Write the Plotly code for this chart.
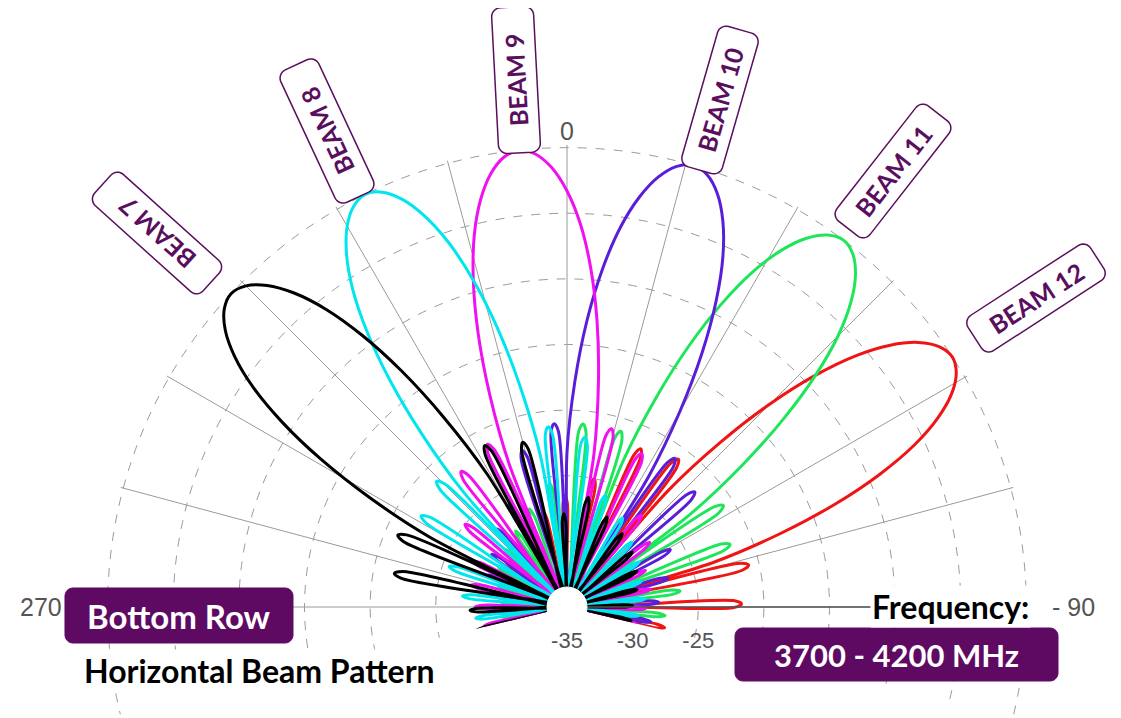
import math
import plotly.graph_objects as go

# ---------------- data ----------------
beam_names = ["BEAM 7", "BEAM 8", "BEAM 9", "BEAM 10", "BEAM 11", "BEAM 12"]
beam_steer_deg = [-47, -26, -6, 16, 37, 57]
beam_colors = ["#000000", "#00E6EE", "#F010F0", "#5A1ED8", "#1EE65A", "#F01414"]

# main lobe (offset from steering angle, gain in dB)
main_lobe_offset_deg = [-16, -14, -12, -10, -8, -6, -4, -2, 0, 2, 4, 6, 8, 10, 12, 14, 16]
main_lobe_gain_db = [-23.2, -17.8, -13.1, -9.1, -5.8, -3.3, -1.5, -0.4, 0.0,
                     -0.4, -1.5, -3.3, -5.8, -9.1, -13.1, -17.8, -23.2]

# side lobes: offsets of the lobe tips and of the nulls between them
sidelobe_offset_deg = [20, 32, 45, 58, 71, 84, 97, 110, 123, 136, 149, 162, 175]
null_offset_deg = [17.5, 26, 38.5, 51.5, 64.5, 77.5, 90.5, 103.5, 116.5, 129.5, 142.5, 155.5, 168.5, 180]
null_gain_db = -35
# each side-lobe tip is a narrow loop: half width (deg) and drop (dB) at its shoulders
sidelobe_shoulder_deg = 1.2
sidelobe_shoulder_drop_db = 0.6

sidelobe_left_db = [
    [-21.0, -21.6, -27.6, -27.7, -28.7, -29.5, -29.8, -30.0, -30.5, -30.5, -31.0, -31.0, -31.0],
    [-21.2, -21.9, -25.5, -27.0, -28.0, -28.5, -29.0, -29.5, -30.0, -30.0, -30.5, -30.5, -31.0],
    [-21.2, -21.9, -25.0, -27.0, -27.5, -28.0, -28.5, -29.0, -29.5, -30.0, -30.0, -30.5, -31.0],
    [-21.0, -22.6, -26.0, -27.0, -28.0, -28.5, -29.0, -29.0, -29.5, -30.0, -30.0, -30.5, -31.0],
    [-21.0, -21.0, -25.5, -27.0, -28.0, -28.5, -29.0, -29.5, -30.0, -30.0, -30.5, -31.0, -31.0],
    [-20.9, -21.7, -25.0, -26.5, -27.5, -28.0, -28.5, -29.0, -29.5, -30.0, -30.0, -30.5, -31.0],
]
sidelobe_right_db = [
    [-21.2, -22.0, -27.9, -26.5, -27.5, -28.0, -28.5, -29.0, -29.5, -30.0, -30.0, -30.5, -31.0],
    [-21.2, -22.0, -26.0, -27.0, -28.0, -28.5, -29.0, -29.0, -29.5, -30.0, -30.0, -30.5, -31.0],
    [-21.0, -22.0, -26.0, -27.0, -28.4, -28.5, -29.0, -29.5, -29.5, -30.0, -30.5, -30.5, -31.0],
    [-21.0, -21.9, -26.0, -27.0, -28.0, -28.5, -29.0, -29.5, -30.0, -30.0, -30.5, -31.0, -31.0],
    [-20.8, -21.7, -26.3, -27.5, -28.0, -28.5, -29.0, -29.5, -29.5, -30.0, -30.5, -30.5, -31.0],
    [-20.8, -21.7, -27.4, -27.5, -28.5, -29.0, -28.0, -29.5, -30.0, -30.0, -30.5, -31.0, -31.0],
]

radial_ticks_db = [-35, -30, -25, -20, -15, -10, -5, 0]
radial_tick_text = ["-35", "-30", "-25", "", "", "", "", ""]   # others hidden by the box
angular_grid_deg = list(range(-180, 180, 15))

# ---------------- layout helpers (reference pixels -> paper) ----------------
OX, OY = 8, 8               # page body margin
FW, FH = 1121 - OX, 718 - OY
CX, CY, R = 567, 607, 462   # polar centre and radius in reference pixels


def to_paper(x, y):
    return (x - OX) / FW, 1 - (y - OY) / FH


def rounded_rect_path(cx, cy, w, h, angle, rad, n=8):
    a = math.radians(angle)
    ca, sa = math.cos(a), math.sin(a)
    hw, hh = w / 2 - rad, h / 2 - rad
    pts = []
    for ox, oy, a0 in [(hw, hh, 0), (-hw, hh, 90), (-hw, -hh, 180), (hw, -hh, 270)]:
        for k in range(n + 1):
            t = math.radians(a0 + 90 * k / n)
            x = ox + rad * math.cos(t)
            y = oy + rad * math.sin(t)
            pts.append(to_paper(cx + x * ca - y * sa, cy + x * sa + y * ca))
    return "M " + " L ".join(f"{x:.5f},{y:.5f}" for x, y in pts) + " Z"


def lobe_tip(center, gain):
    s, d = sidelobe_shoulder_deg, sidelobe_shoulder_drop_db
    return [center - s, center, center + s], [gain - d, gain, gain - d]


def beam_trace_points(i):
    steer = beam_steer_deg[i]
    theta, r = [steer - null_offset_deg[-1]], [null_gain_db]
    for k in reversed(range(len(sidelobe_offset_deg))):
        t, g = lobe_tip(steer - sidelobe_offset_deg[k], sidelobe_left_db[i][k])
        theta += t + [steer - null_offset_deg[k]]
        r += g + [null_gain_db]
    for off, g in zip(main_lobe_offset_deg, main_lobe_gain_db):
        theta.append(steer + off)
        r.append(g)
    for k in range(len(sidelobe_offset_deg)):
        t, g = lobe_tip(steer + sidelobe_offset_deg[k], sidelobe_right_db[i][k])
        theta += [steer + null_offset_deg[k]] + t
        r += [null_gain_db] + g
    theta.append(steer + null_offset_deg[-1])
    r.append(null_gain_db)
    return theta, r


fig = go.Figure()
for i in reversed(range(len(beam_names))):
    th, rr = beam_trace_points(i)
    fig.add_trace(go.Scatterpolar(
        theta=th, r=rr, mode="lines", name=beam_names[i],
        line=dict(color=beam_colors[i], width=3, shape="spline", smoothing=1),
        hoverinfo="skip",
    ))

PURPLE = "#5E0A62"
LABEL_PURPLE = "#5A0F5E"
BOLD_FONT = "Lato"
shapes = []
annotations = []

# white disc at the centre of the pattern
x0, y0 = to_paper(CX - 20, CY + 20)
x1, y1 = to_paper(CX + 20, CY - 20)
shapes.append(dict(type="circle", xref="paper", yref="paper", x0=x0, y0=y0, x1=x1, y1=y1,
                   fillcolor="white", line=dict(color="white", width=1), layer="above"))

# beam label boxes (center px, angle)
beam_label_pos = [(157, 233, -138), (327, 131, -115), (516, 80, -93),
                  (720, 100, -74), (893, 171, -52), (1036, 298, -33)]
for name, (cx, cy, ang) in zip(beam_names, beam_label_pos):
    shapes.append(dict(type="path", xref="paper", yref="paper",
                       path=rounded_rect_path(cx, cy, 146, 42, ang, 9),
                       fillcolor="white", line=dict(color=LABEL_PURPLE, width=1.5),
                       layer="above"))
    x, y = to_paper(cx, cy)
    annotations.append(dict(x=x, y=y, xref="paper", yref="paper", text=f"<b>{name}</b>",
                            textangle=ang, showarrow=False, xanchor="center", yanchor="middle",
                            font=dict(family=BOLD_FONT, size=25, color=LABEL_PURPLE)))

# filled boxes
for (cx, cy, w, h, txt, fs) in [(179, 615.5, 228, 55, "Bottom Row", 33),
                                (896.5, 654.5, 323, 53, "3700 - 4200 MHz", 31)]:
    shapes.append(dict(type="path", xref="paper", yref="paper",
                       path=rounded_rect_path(cx, cy, w, h, 0, 8),
                       fillcolor=PURPLE, line=dict(color=PURPLE, width=1), layer="above"))
    x, y = to_paper(cx, cy)
    annotations.append(dict(x=x, y=y, xref="paper", yref="paper", text=f"<b>{txt}</b>",
                            showarrow=False, xanchor="center", yanchor="middle",
                            font=dict(family=BOLD_FONT, size=fs, color="white")))

x, y = to_paper(82, 670)
annotations.append(dict(x=x, y=y, xref="paper", yref="paper", text="<b>Horizontal Beam Pattern</b>",
                        showarrow=False, xanchor="left", yanchor="middle", bgcolor="white",
                        font=dict(family=BOLD_FONT, size=32, color="black")))
x, y = to_paper(870, 606)
annotations.append(dict(x=x, y=y, xref="paper", yref="paper", text="<b>Frequency:</b>",
                        showarrow=False, xanchor="left", yanchor="middle", bgcolor="white",
                        font=dict(family=BOLD_FONT, size=32, color="black")))

# angular direction labels
for txt, (lx, ly, anc) in [("0", (567, 131, "center")), ("- 90", (1050, 607, "left")),
                           ("270", (41, 607, "center"))]:
    x, y = to_paper(lx, ly)
    annotations.append(dict(x=x, y=y, xref="paper", yref="paper", text=txt, showarrow=False,
                            xanchor=anc, yanchor="middle",
                            font=dict(family="Liberation Sans", size=25, color="#555555")))

dom_x = [(CX - R - OX) / FW, (CX + R - OX) / FW]
dom_y = [1 - (CY + R * math.sin(math.radians(13.5)) - OY) / FH, 1 - (CY - R - OY) / FH]

fig.update_layout(
    width=FW, height=FH, autosize=False,
    margin=dict(l=0, r=0, t=0, b=0),
    paper_bgcolor="white", plot_bgcolor="white",
    showlegend=False,
    polar=dict(
        domain=dict(x=dom_x, y=dom_y),
        sector=[-13.5, 193.5],
        hole=0,
        bgcolor="white",
        angularaxis=dict(rotation=90, direction="clockwise", tickmode="array",
                         tickvals=angular_grid_deg, showticklabels=False, ticks="",
                         showgrid=True, gridcolor="#9a9a9a", gridwidth=1,
                         showline=False),
        radialaxis=dict(range=[-35, 0.2], tickmode="array", tickvals=radial_ticks_db,
                        ticktext=radial_tick_text,
                        angle=0, side="clockwise", showline=True, linecolor="#555555",
                        linewidth=1.5, showgrid=True, gridcolor="#9a9a9a", gridwidth=1,
                        griddash="dash", ticks="outside", ticklen=14,
                        tickcolor="rgba(0,0,0,0)",
                        tickfont=dict(family="Liberation Sans", size=22, color="#555555")),
    ),
    shapes=shapes,
    annotations=annotations,
)

fig.write_html("out.html")
